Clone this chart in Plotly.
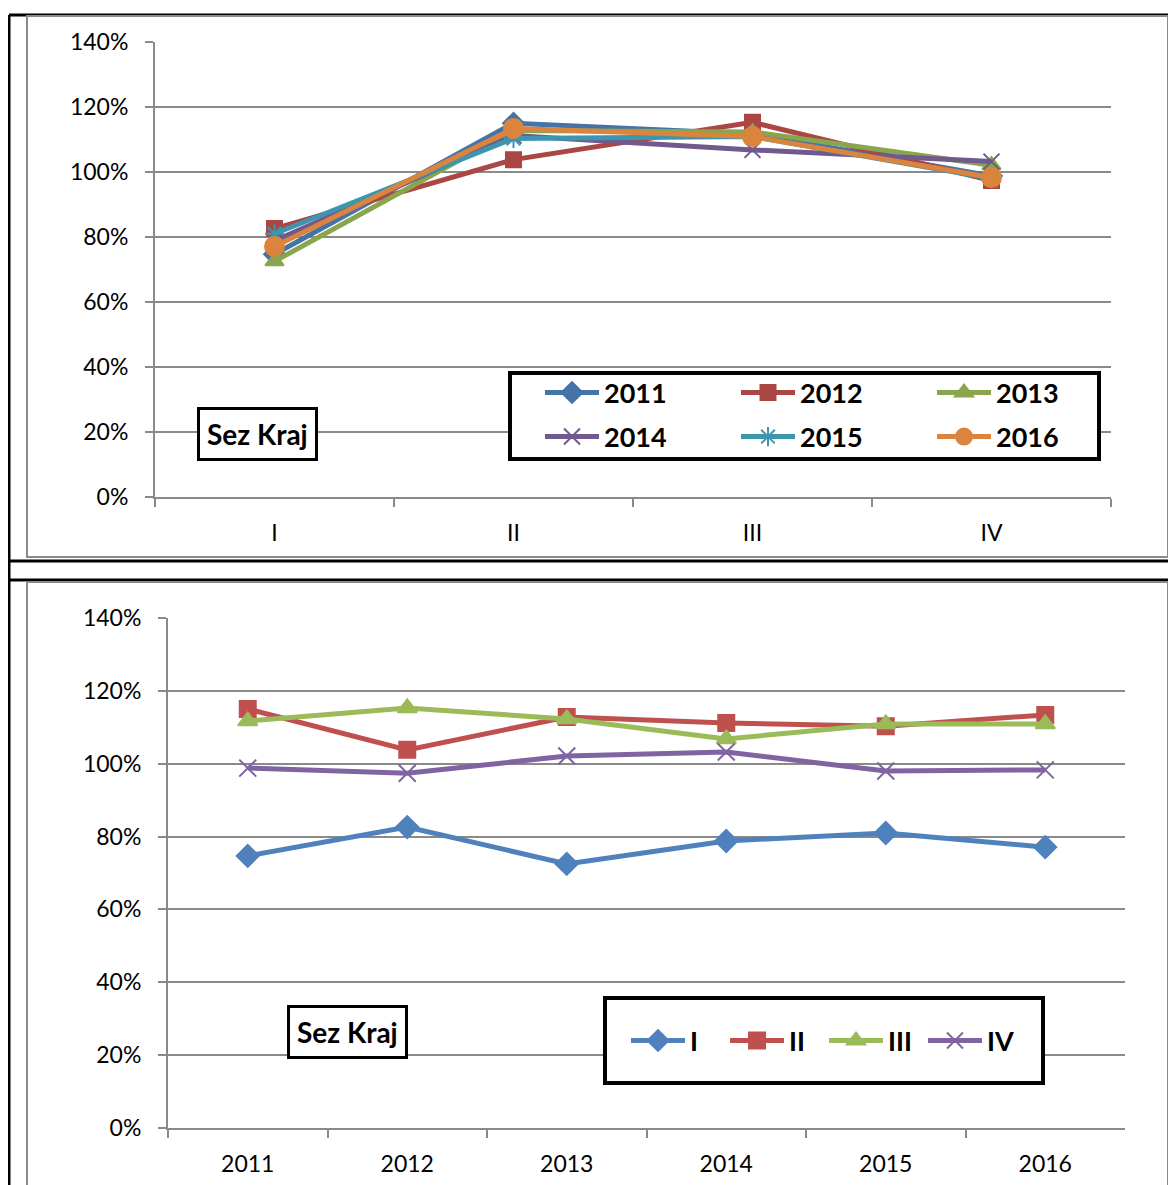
import plotly.graph_objects as go

# values per quarter, one entry per year (share of yearly average)
years = ["2011", "2012", "2013", "2014", "2015", "2016"]
quarters = ["I", "II", "III", "IV"]
q1 = [0.747, 0.826, 0.725, 0.788, 0.810, 0.771]
q2 = [1.150, 1.038, 1.128, 1.112, 1.103, 1.134]
q3 = [1.117, 1.153, 1.123, 1.068, 1.109, 1.109]
q4 = [0.988, 0.974, 1.021, 1.032, 0.980, 0.983]
box_label = "Sez Kraj"

W, H = 1176, 1185
OFF = 8  # page body margin, positions below are page pixels
FONT = "Lato"
GRAY = "#8a8a8a"

year_colors = ["#4572A7", "#AA4643", "#89A54E", "#71588F", "#3D96AE", "#DB843D"]
year_symbols = ["diamond", "square", "triangle-up", "x-thin", "asterisk", "circle"]
year_sizes = [16, 15, 16, 16, 16, 19]
quarter_colors = ["#4F81BD", "#C0504D", "#9BBB59", "#8064A2"]
quarter_symbols = ["diamond", "square", "triangle-up", "x-thin"]
quarter_sizes = [17, 16, 17, 17]


def px(x=None, y=None):
    """page pixel position -> paper coordinate"""
    if x is not None:
        return (x - OFF) / W
    return 1 - (y - OFF) / H


fig = go.Figure()

by_quarter = [q1, q2, q3, q4]

# top chart: one line per year across the quarters
for i, yr in enumerate(years):
    vals = [q[i] for q in by_quarter]
    fig.add_trace(go.Scatter(
        x=quarters, y=vals, name=yr, mode="lines+markers",
        line=dict(color=year_colors[i], width=5),
        marker=dict(symbol=year_symbols[i], size=year_sizes[i], color=year_colors[i],
                    line=dict(color=year_colors[i], width=2)),
        xaxis="x", yaxis="y",
        legend="legend" if i < 3 else "legend2",
    ))

# bottom chart: one line per quarter across the years
for j, qn in enumerate(quarters):
    fig.add_trace(go.Scatter(
        x=years, y=by_quarter[j], name=qn, mode="lines+markers",
        line=dict(color=quarter_colors[j], width=5),
        marker=dict(symbol=quarter_symbols[j], size=quarter_sizes[j], color=quarter_colors[j],
                    line=dict(color=quarter_colors[j], width=2)),
        xaxis="x2", yaxis="y2", legend="legend3",
    ))

yax = dict(range=[0, 1.4], dtick=0.2, tickformat=".0%", showgrid=True, automargin=False,
           gridcolor=GRAY, gridwidth=2, showline=True, linecolor=GRAY, linewidth=2,
           ticks="outside", ticklen=8, tickwidth=2, tickcolor=GRAY, zeroline=False,
           ticklabelstandoff=12, tickfont=dict(size=23, color="black", family=FONT))
xax = dict(type="category", tickson="boundaries", ticks="outside", ticklen=8,
           tickwidth=2, tickcolor=GRAY, showline=True, linecolor=GRAY, linewidth=2,
           showgrid=False, zeroline=False, ticklabelstandoff=14, automargin=False,
           tickfont=dict(size=23, color="black", family=FONT))

fig.update_layout(
    xaxis=dict(xax, domain=[px(x=155), px(x=1111)], anchor="y",
               range=[-0.5, len(quarters) - 0.5]),
    yaxis=dict(yax, domain=[px(y=497), px(y=42)], anchor="x"),
    xaxis2=dict(xax, domain=[px(x=168), px(x=1125)], anchor="y2",
                range=[-0.5, len(years) - 0.5]),
    yaxis2=dict(yax, domain=[px(y=1128), px(y=618)], anchor="x2"),
)

leg = dict(orientation="h", xanchor="left", yanchor="middle", bgcolor="rgba(0,0,0,0)",
           borderwidth=0, itemwidth=54, tracegroupgap=0, entrywidthmode="pixels",
           font=dict(size=27, family=FONT, color="black", weight="bold"))
fig.update_layout(
    legend=dict(leg, x=px(x=540), y=px(y=393), entrywidth=127),
    legend2=dict(leg, x=px(x=540), y=px(y=437), entrywidth=127),
    legend3=dict(leg, x=px(x=626), y=px(y=1041), entrywidth=30),
)

shapes = []
# document table borders
for y0 in (15, 561, 580):
    shapes.append(dict(type="line", x0=px(x=9), x1=1, y0=px(y=y0), y1=px(y=y0),
                       line=dict(color="black", width=3)))
shapes.append(dict(type="line", x0=px(x=9), x1=px(x=9), y0=px(y=15), y1=0,
                   line=dict(color="black", width=3)))
# chart area frames
shapes.append(dict(type="rect", x0=px(x=27), x1=px(x=1168), y0=px(y=557), y1=px(y=16),
                   line=dict(color=GRAY, width=2)))
shapes.append(dict(type="rect", x0=px(x=27), x1=px(x=1168), y0=-0.05, y1=px(y=582),
                   line=dict(color=GRAY, width=2)))
# legend boxes
shapes.append(dict(type="rect", x0=px(x=510), x1=px(x=1099), y0=px(y=459), y1=px(y=373),
                   line=dict(color="black", width=4), fillcolor="white", layer="above"))
shapes.append(dict(type="rect", x0=px(x=605), x1=px(x=1043), y0=px(y=1083), y1=px(y=998),
                   line=dict(color="black", width=4), fillcolor="white", layer="above"))
for s in shapes:
    s.update(xref="paper", yref="paper")

ann = dict(xref="paper", yref="paper", showarrow=False, bgcolor="white",
           xanchor="center", yanchor="middle",
           bordercolor="black", borderwidth=3, borderpad=7,
           font=dict(size=28, family=FONT, color="black", weight="bold"))
fig.update_layout(
    shapes=shapes,
    annotations=[
        dict(ann, text=box_label, x=px(x=257), y=px(y=434)),
        dict(ann, text=box_label, x=px(x=347), y=px(y=1032)),
    ],
    width=W, height=H, margin=dict(l=0, r=0, t=0, b=0, autoexpand=False),
    paper_bgcolor="white", plot_bgcolor="white", showlegend=True,
    font=dict(family=FONT, color="black"),
)

fig.write_html("out.html")
